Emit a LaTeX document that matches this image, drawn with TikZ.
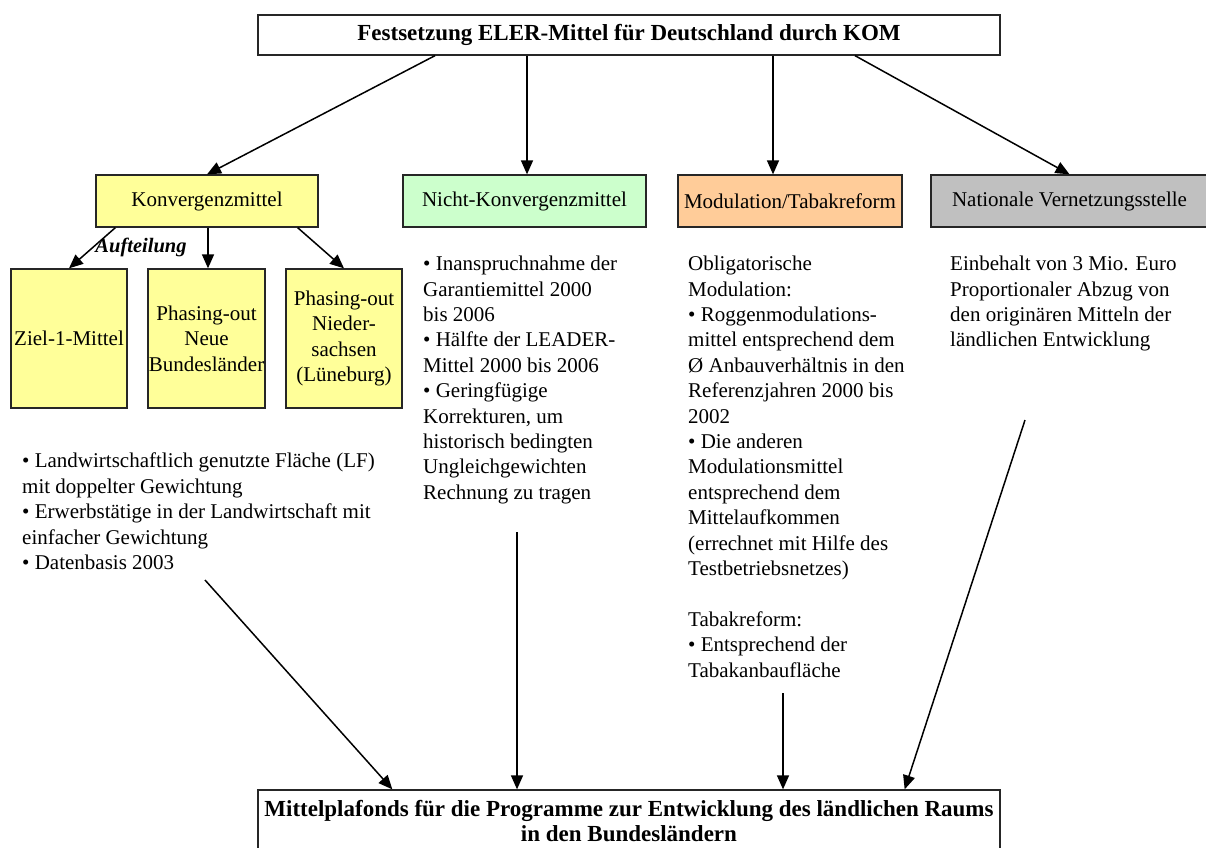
\documentclass[tikz,border=0pt]{standalone}
\usepackage{fontspec}
\setmainfont{Liberation Serif}
\usetikzlibrary{arrows.meta,calc}
\definecolor{kyellow}{HTML}{FFFF99}
\definecolor{kgreen}{HTML}{CCFFCC}
\definecolor{korange}{HTML}{FFCC99}
\definecolor{kgray}{HTML}{C0C0C0}
\begin{document}
\begin{tikzpicture}[x=1pt,y=-1pt,
  box/.style={draw=black!85,line width=1.3pt,inner sep=0pt,align=center,font=\fontsize{21}{25.4}\selectfont},
  headbox/.style={box,fill=white,font=\fontsize{23}{24.5}\selectfont\bfseries},
  midbox/.style={box,minimum height=52},
  subbox/.style={box,fill=kyellow,minimum height=139},
  conn/.style={line width=1.5pt,-{Triangle[length=14pt,width=12pt]}},
  txt/.style={inner sep=0pt,anchor=north west,align=left,font=\fontsize{21}{25.4}\selectfont},
]
\useasboundingbox (0,0) rectangle (1206,847);

% header and footer
\node[headbox,minimum width=742,minimum height=40] (top) at (629,35) {Festsetzung ELER-Mittel für Deutschland durch KOM};
\node[headbox,minimum width=742,minimum height=62] (bot) at (629,821) {Mittelplafonds für die Programme zur Entwicklung des ländlichen Raums\\in den Bundesländern};

% middle row
\node[midbox,fill=kyellow,minimum width=222] (konv) at (207,201) {Konvergenzmittel};
\node[midbox,fill=kgreen,minimum width=243] (nk) at (524.5,201) {Nicht-Konvergenzmittel};
\node[midbox,fill=korange,minimum width=224] (mod) at (790,201) {Modulation/Tabakreform};
\node[midbox,fill=kgray,minimum width=277] (nat) at (1069.5,201) {Nationale Vernetzungsstelle};

% sub boxes
\node[subbox,minimum width=116] (z1) at (69,338.5) {Ziel-1-Mittel};
\node[subbox,minimum width=117] (po1) at (206.5,338.5) {Phasing-out\\Neue\\Bundesländer};
\node[subbox,minimum width=116] (po2) at (344,338.5) {Phasing-out\\Nieder-\\sachsen\\(Lüneburg)};

% text blocks
\node[txt] (tk) at (22,453) {• Landwirtschaftlich genutzte Fläche (LF)\\mit doppelter Gewichtung\\• Erwerbstätige in der Landwirtschaft mit\\einfacher Gewichtung\\• Datenbasis 2003};
\node[txt] (tn) at (423,256) {• Inanspruchnahme der\\Garantiemittel 2000\\bis 2006\\• Hälfte der LEADER-\\Mittel 2000 bis 2006\\• Geringfügige\\Korrekturen, um\\historisch bedingten\\Ungleichgewichten\\Rechnung zu tragen};
\node[txt] (tm) at (688,256) {Obligatorische\\Modulation:\\• Roggenmodulations-\\mittel entsprechend dem\\Ø Anbauverhältnis in den\\Referenzjahren 2000 bis\\2002\\• Die anderen\\Modulationsmittel\\entsprechend dem\\Mittelaufkommen\\(errechnet mit Hilfe des\\Testbetriebsnetzes)\\\mbox{}\\Tabakreform:\\• Entsprechend der\\Tabakanbaufläche};
\node[txt] (tv) at (950,256) {Einbehalt von 3 Mio. Euro\\Proportionaler Abzug von\\den originären Mitteln der\\ländlichen Entwicklung};

\node[font=\fontsize{20.5}{24}\selectfont\bfseries\itshape,inner sep=0pt] (auf) at (141,247) {Aufteilung};

% connectors from header
\draw[conn] ([xshift=-194pt]top.south) -- (konv.north);
\draw[conn] ([xshift=2.5pt]top.south -| nk.north) -- ([xshift=2.5pt]nk.north);
\draw[conn] ([xshift=-17pt]top.south -| mod.north) -- ([xshift=-17pt]mod.north);
\draw[conn] ([xshift=226pt]top.south) -- (nat.north);

% connectors to sub boxes
\draw[conn] ([xshift=20pt]konv.south west) -- (z1.north);
\draw[conn] ([xshift=1.5pt]konv.south -| po1.north) -- ([xshift=1.5pt]po1.north);
\draw[conn] ([xshift=-21pt]konv.south east) -- (po2.north);

% connectors to footer
\coordinate (s1) at (205,580);
\coordinate (s2) at (517,532);
\coordinate (s3) at (783,693);
\coordinate (s4) at (1025,420);
\draw[conn] (s1) -- ([xshift=135pt]bot.north west);
\draw[conn] (s2) -- (s2 |- bot.north);
\draw[conn] (s3) -- (s3 |- bot.north);
\draw[conn] (s4) -- ([xshift=-96pt]bot.north east);
\end{tikzpicture}
\end{document}
